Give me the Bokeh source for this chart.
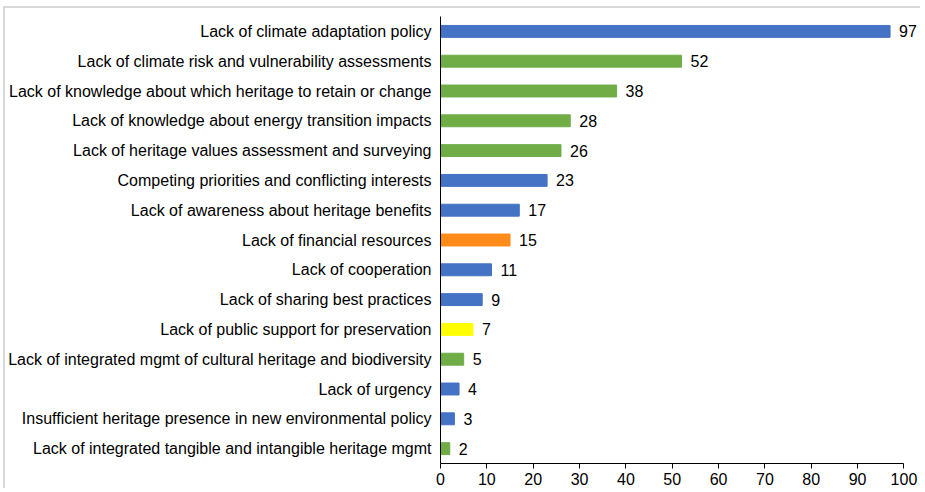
from bokeh.plotting import figure
from bokeh.models import ColumnDataSource, FactorRange, Range1d, FixedTicker, LabelSet
from bokeh.core.properties import value
from bokeh.embed import file_html
from bokeh.resources import INLINE

categories = [
    "Lack of climate adaptation policy",
    "Lack of climate risk and vulnerability assessments",
    "Lack of knowledge about which heritage to retain or change",
    "Lack of knowledge about energy transition impacts",
    "Lack of heritage values assessment and surveying",
    "Competing priorities and conflicting interests",
    "Lack of awareness about heritage benefits",
    "Lack of financial resources",
    "Lack of cooperation",
    "Lack of sharing best practices",
    "Lack of public support for preservation",
    "Lack of integrated mgmt of cultural heritage and biodiversity",
    "Lack of urgency",
    "Insufficient heritage presence in new environmental policy",
    "Lack of integrated tangible and intangible heritage mgmt",
]
values = [97, 52, 38, 28, 26, 23, 17, 15, 11, 9, 7, 5, 4, 3, 2]
groups = ["blue", "green", "green", "green", "green", "blue", "blue", "orange",
          "blue", "blue", "yellow", "green", "blue", "blue", "green"]
palette = {"blue": "#4472C4", "green": "#70AD47", "orange": "#FF8C1A", "yellow": "#FFFF00"}
x_ticks = [0, 10, 20, 30, 40, 50, 60, 70, 80, 90, 100]

src = ColumnDataSource(dict(
    cat=categories,
    val=values,
    color=[palette[g] for g in groups],
    lab=[str(v) for v in values],
))

p = figure(
    y_range=FactorRange(*list(reversed(categories)), range_padding=0),
    x_range=Range1d(0, 104),
    width=917, height=482,
    output_backend="svg", toolbar_location=None,
    min_border_left=0, min_border_right=0, min_border_top=8, min_border_bottom=27,
)
p.styles = {"border-left": "2px solid #d9d9d9", "border-top": "2px solid #d9d9d9"}
p.margin = (6, 0, 0, 3)

p.hbar(y="cat", right="val", left=0, height=0.4, color="color", source=src)

labels = LabelSet(x="val", y="cat", text="lab", source=src, x_offset=9, y_offset=0,
                  text_baseline="middle", text_font=value("Liberation Sans"),
                  text_font_size="16px", text_color="#000000")
p.add_layout(labels)

p.outline_line_color = None
p.xgrid.grid_line_color = None
p.ygrid.grid_line_color = None

p.xaxis.bounds = (0, 100)
p.xaxis.ticker = FixedTicker(ticks=x_ticks)
p.xaxis.minor_tick_line_color = None
p.xaxis.major_tick_out = 5
p.xaxis.major_tick_in = 0
p.xaxis.axis_line_color = "#000000"
p.xaxis.major_tick_line_color = "#000000"
p.xaxis.major_label_text_font = "Liberation Sans"
p.xaxis.major_label_text_font_size = "16px"
p.xaxis.major_label_text_color = "#000000"
p.xaxis.major_label_standoff = 4

p.yaxis.major_tick_line_color = None
p.yaxis.minor_tick_line_color = None
p.yaxis.axis_line_color = "#000000"
p.yaxis.major_label_text_font = "Liberation Sans"
p.yaxis.major_label_text_font_size = "16px"
p.yaxis.major_label_text_color = "#000000"
p.yaxis.major_label_standoff = 3

open("out.html", "w").write(file_html(p, INLINE))
